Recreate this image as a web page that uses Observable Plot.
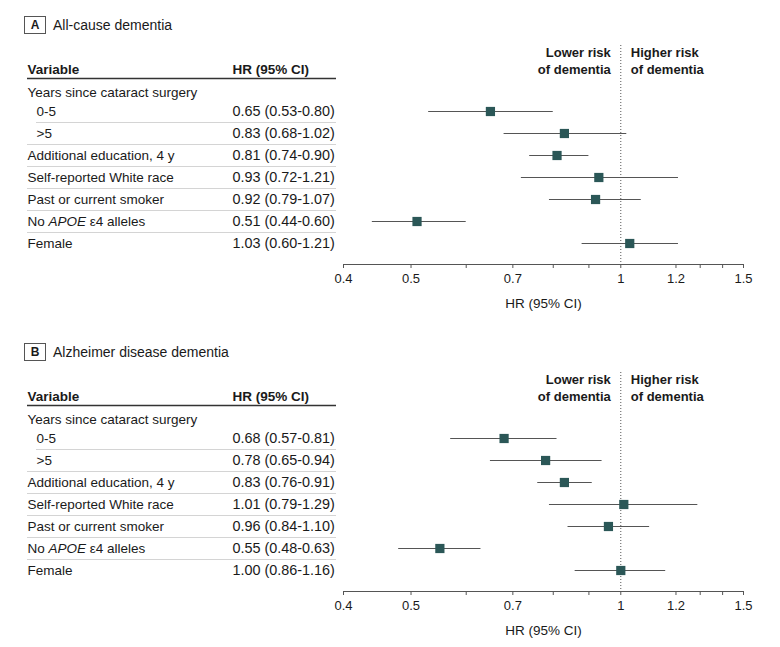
<!DOCTYPE html>
<html>
<head>
<meta charset="utf-8">
<script src="https://cdn.jsdelivr.net/npm/d3@7"></script>
<script src="https://cdn.jsdelivr.net/npm/@observablehq/plot@0.6"></script>
<style>
  html, body { margin: 0; padding: 0; background: #fff; }
  #root { position: relative; width: 780px; height: 647px; font-family: "Liberation Sans", Arial, sans-serif; color: #1a1a1a; overflow: hidden; }
  .panel { position: absolute; left: 0; width: 780px; height: 327px; }
  .ptitle { position: absolute; left: 24px; top: 16px; height: 18px; display: flex; align-items: center; font-size: 14px; }
  .ptitle .box { box-sizing: border-box; width: 22px; height: 18px; border: 1px solid #555; display: flex; align-items: center; justify-content: center; font-weight: bold; font-size: 12px; margin-right: 7px; }
  .left, .right { position: absolute; top: 40px; }
  .left { left: 0; }
  .right { left: 293px; }
  svg { overflow: visible; }
</style>
</head>
<body>
<div id="root"></div>
<script>
// ---- data ----
const panels = [
  { letter: "A", title: "All-cause dementia" },
  { letter: "B", title: "Alzheimer disease dementia" }
];
const groupLabel = "Years since cataract surgery";
const variables = ["0-5", ">5", "Additional education, 4 y", "Self-reported White race", "Past or current smoker", "No APOE ε4 alleles", "Female"];
const subRows = ["0-5", ">5"];

// Panel A (All-cause dementia)
const hrA = [0.65, 0.83, 0.81, 0.93, 0.92, 0.51, 1.03];
const loA = [0.53, 0.68, 0.74, 0.72, 0.79, 0.44, 0.88];
const hiA = [0.80, 1.02, 0.90, 1.21, 1.07, 0.60, 1.21];
const ciTextA = ["0.65 (0.53-0.80)", "0.83 (0.68-1.02)", "0.81 (0.74-0.90)", "0.93 (0.72-1.21)", "0.92 (0.79-1.07)", "0.51 (0.44-0.60)", "1.03 (0.60-1.21)"];

// Panel B (Alzheimer disease dementia)
const hrB = [0.68, 0.78, 0.83, 1.01, 0.96, 0.55, 1.00];
const loB = [0.57, 0.65, 0.76, 0.79, 0.84, 0.48, 0.86];
const hiB = [0.81, 0.94, 0.91, 1.29, 1.10, 0.63, 1.16];
const ciTextB = ["0.68 (0.57-0.81)", "0.78 (0.65-0.94)", "0.83 (0.76-0.91)", "1.01 (0.79-1.29)", "0.96 (0.84-1.10)", "0.55 (0.48-0.63)", "1.00 (0.86-1.16)"];

const allTicks = [0.4, 0.5, 0.6, 0.7, 0.8, 0.9, 1, 1.2, 1.3, 1.4, 1.5];
const labelTicks = [0.4, 0.5, 0.7, 1, 1.2, 1.5];
const xDomain = [0.4, 1.5];
const headVar = "Variable";
const headHR = "HR (95% CI)";
const axisTitle = "HR (95% CI)";
const lowerText = "Lower risk\nof dementia";
const higherText = "Higher risk\nof dementia";

// ---- layout ----
const rowKeys = ["__top", headVar, groupLabel, ...variables, "__axis"];
const H = 280, MT = 5, MB = 55;
const FONT = '"Liberation Sans", Arial, sans-serif';
const INK = "#1a1a1a";
const yScale = { type: "point", domain: rowKeys, padding: 0, axis: null };
const italicize = (svg) => {
  svg.querySelectorAll("text, tspan").forEach(el => {
    if (el.childElementCount === 0 && el.textContent === "No APOE ε4 alleles") {
      el.innerHTML = 'No <tspan font-style="italic">APOE</tspan> ε4 alleles';
    }
  });
};

const root = document.getElementById("root");
const datasets = [
  { hr: hrA, lo: loA, hi: hiA, txt: ciTextA },
  { hr: hrB, lo: loB, hi: hiB, txt: ciTextB }
];

panels.forEach((p, pi) => {
  const ds = datasets[pi];
  const data = variables.map((v, i) => ({ v, hr: ds.hr[i], lo: ds.lo[i], hi: ds.hi[i], txt: ds.txt[i] }));
  const panel = document.createElement("div");
  panel.className = "panel";
  panel.style.top = (pi * 327) + "px";
  panel.innerHTML = `<div class="ptitle"><span class="box">${p.letter}</span><span>${p.title}</span></div><div class="left"></div><div class="right"></div>`;
  root.appendChild(panel);

  const sepRows = variables.slice(1, variables.length - 1);
  const plainRows = variables.filter(d => !subRows.includes(d));

  // left table
  const left = Plot.plot({
    width: 343, height: H, marginLeft: 27, marginRight: 7, marginTop: MT, marginBottom: MB,
    y: yScale,
    style: { fontFamily: FONT, fontSize: "13.5px", color: INK, background: "transparent", overflow: "visible" },
    marks: [
      Plot.ruleY([headVar], { y: d => d, dy: 11, stroke: "#333", strokeWidth: 1.5 }),
      Plot.ruleY([variables[0]], { y: d => d, dy: 11, stroke: "#d4d4d4", insetLeft: 9 }),
      Plot.ruleY(sepRows, { y: d => d, dy: 11, stroke: "#d4d4d4" }),
      Plot.text([headVar], { y: d => d, text: d => d, frameAnchor: "left", textAnchor: "start", dy: 2, fontWeight: "bold", fontSize: 13.5, fill: INK }),
      Plot.text([headHR], { y: () => headVar, text: d => d, frameAnchor: "left", textAnchor: "start", dx: 205, dy: 2, fontWeight: "bold", fontSize: 13.5, fill: INK }),
      Plot.text([groupLabel], { y: d => d, text: d => d, frameAnchor: "left", textAnchor: "start", dy: 3, fontSize: 13.5, fill: INK }),
      Plot.text(plainRows, { y: d => d, text: d => d, frameAnchor: "left", textAnchor: "start", fontSize: 13.5, fill: INK }),
      Plot.text(subRows, { y: d => d, text: d => d, frameAnchor: "left", textAnchor: "start", dx: 9, fontSize: 13.5, fill: INK }),
      Plot.text(data, { y: "v", text: "txt", frameAnchor: "left", textAnchor: "start", dx: 205, fontSize: 14.4, fill: INK })
    ]
  });
  italicize(left);
  panel.querySelector(".left").appendChild(left);

  // right forest plot
  const right = Plot.plot({
    width: 487, height: H, marginLeft: 50, marginRight: 37, marginTop: MT, marginBottom: MB,
    x: { type: "log", domain: xDomain, axis: null },
    y: yScale,
    style: { fontFamily: FONT, fontSize: "13px", color: INK, background: "transparent", overflow: "visible" },
    marks: [
      Plot.ruleX([1], { stroke: "#555", strokeDasharray: "1,2" }),
      Plot.ruleY(["__axis"], { y: d => d, dy: -1, stroke: "#555" }),
      Plot.axisX({ ticks: allTicks, tickFormat: d => labelTicks.includes(d) ? String(d) : "", tickSize: 4, tickPadding: 5, dy: -1, fontSize: 13, stroke: "#555", fill: INK, label: null }),
      Plot.ruleY(data, { y: "v", x1: "lo", x2: "hi", stroke: "#555", strokeWidth: 1 }),
      Plot.dot(data, { x: "hr", y: "v", symbol: "square", r: 5.2, fill: "#2b5757", stroke: "none" }),
      Plot.text([lowerText], { x: () => 1, y: () => headVar, text: d => d, textAnchor: "end", dx: -10, dy: -7, lineHeight: 1.3, fontWeight: "bold", fontSize: 13, fill: INK }),
      Plot.text([higherText], { x: () => 1, y: () => headVar, text: d => d, textAnchor: "start", dx: 10, dy: -7, lineHeight: 1.3, fontWeight: "bold", fontSize: 13, fill: INK }),
      Plot.text([axisTitle], { text: d => d, frameAnchor: "bottom", lineAnchor: "middle", dy: 38, fontSize: 13.5, fill: INK })
    ]
  });
  panel.querySelector(".right").appendChild(right);
});
</script>
</body>
</html>
